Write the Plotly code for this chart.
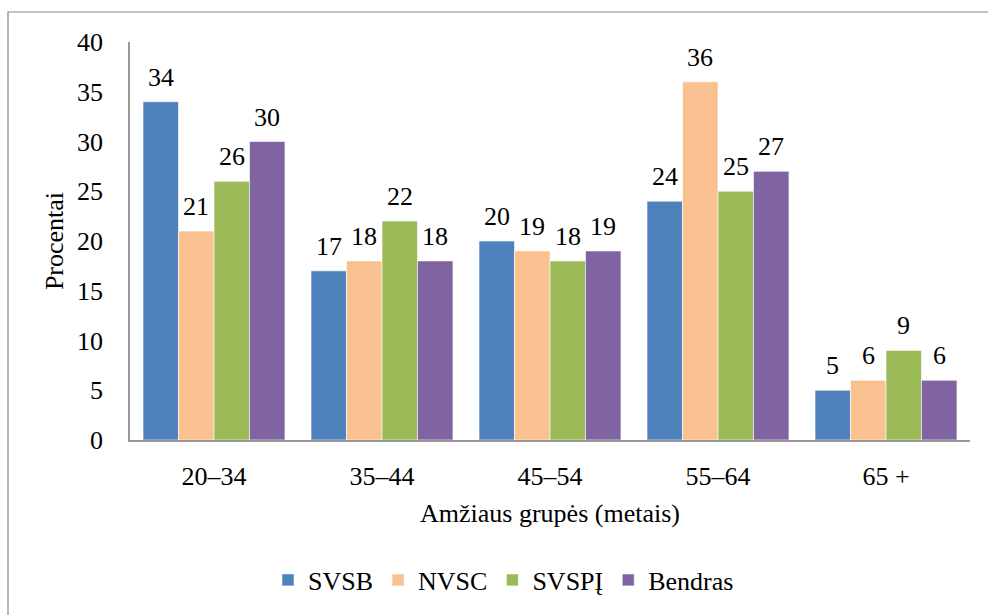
import plotly.graph_objects as go

categories = ["20–34", "35–44", "45–54", "55–64", "65 +"]
series_names = ["SVSB", "NVSC", "SVSPĮ", "Bendras"]
svsb = [34, 17, 20, 24, 5]
nvsc = [21, 18, 19, 36, 6]
svspi = [26, 22, 18, 25, 9]
bendras = [30, 18, 19, 27, 6]
colors = ["#4F81BD", "#F9C090", "#9BBB59", "#8064A2"]
y_ticks = [0, 5, 10, 15, 20, 25, 30, 35, 40]

FONT = "Liberation Serif"
FS = 26
BARGAP = 0.155

fig = go.Figure()
all_series = [svsb, nvsc, svspi, bendras]
for name, vals, col in zip(series_names, all_series, colors):
    fig.add_trace(go.Bar(
        name=name, x=categories, y=vals,
        marker=dict(color=col, line=dict(color="rgba(255,255,255,0.6)", width=1)),
    ))

n = len(all_series)
w = (1 - BARGAP) / n
annotations = []
for j, vals in enumerate(all_series):
    for i, v in enumerate(vals):
        annotations.append(dict(
            x=i + (j - (n - 1) / 2) * w, y=v, xref="x", yref="y",
            text=str(v), showarrow=False, yanchor="bottom", yshift=8,
            font=dict(family=FONT, size=FS, color="#000"),
        ))

fig.update_layout(
    width=988, height=615,
    margin=dict(l=130, r=18, t=42, b=175),
    paper_bgcolor="white", plot_bgcolor="white",
    barmode="group", bargap=BARGAP, bargroupgap=0,
    font=dict(family=FONT, size=FS, color="#000"),
    showlegend=True,
    legend=dict(orientation="h", x=(268 - 130) / 840, xanchor="left",
                y=(440 - 580) / 398, yanchor="middle",
                font=dict(family=FONT, size=FS), itemwidth=30, traceorder="normal"),
    annotations=annotations,
    xaxis=dict(showline=True, linecolor="#999", linewidth=1.5, ticks="", showgrid=False,
               tickfont=dict(family=FONT, size=FS), ticklabelstandoff=12,
               title=dict(text="Amžiaus grupės (metais)", font=dict(family=FONT, size=FS), standoff=14)),
    yaxis=dict(range=[0, 40], tickvals=y_ticks, showline=True, linecolor="#999", linewidth=1.5,
               ticks="", showgrid=False, zeroline=False,
               tickfont=dict(family=FONT, size=FS), ticklabelstandoff=20,
               title=dict(text="Procentai", font=dict(family=FONT, size=FS), standoff=6)),
    shapes=[dict(type="rect", xref="paper", yref="paper",
                 x0=(8 - 130) / 840, x1=(1100 - 130) / 840,
                 y0=-0.6, y1=(440 - 12) / 398,
                 line=dict(color="#888", width=1.2), fillcolor="rgba(0,0,0,0)", layer="below")],
)

fig.write_html("out.html", config={"displayModeBar": False},
               post_script="document.body.style.margin='0';")
